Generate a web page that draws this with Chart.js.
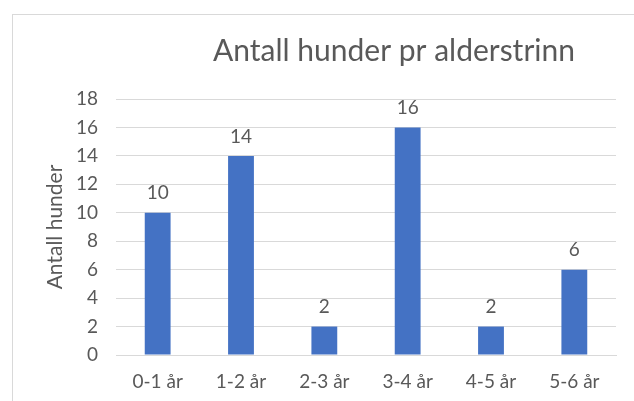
<!DOCTYPE html>
<html>
<head>
<meta charset="utf-8">
<script src="https://cdn.jsdelivr.net/npm/chart.js@4/dist/chart.umd.min.js"></script>
<style>
  body { margin: 0; background: #fff; overflow: hidden; }
  #ramme { position: absolute; left: 12px; top: 14px; width: 640px; height: 400px;
           border-top: 1px solid #d9d9d9; border-left: 1px solid #d9d9d9; }
  #graf { position: absolute; left: 0; top: 0; }
</style>
</head>
<body>
<div id="ramme"></div>
<canvas id="graf" width="634" height="401"></canvas>
<script>
const kategorier = ["0-1 år", "1-2 år", "2-3 år", "3-4 år", "4-5 år", "5-6 år"];
const antallHunder = [10, 14, 2, 16, 2, 6];
const tittel = "Antall hunder pr alderstrinn";
const aksetittel = "Antall hunder";

const skrift = "Lato, 'Open Sans', sans-serif";
const gra = "#595959";

// tall over stolpene + tittel
const etiketter = {
  id: "etiketter",
  afterDatasetsDraw(chart) {
    const ctx = chart.ctx;
    ctx.save();
    ctx.fillStyle = gra;
    ctx.font = "19px " + skrift;
    ctx.textAlign = "center";
    ctx.textBaseline = "bottom";
    chart.getDatasetMeta(0).data.forEach((bar, i) => {
      ctx.fillText(antallHunder[i], bar.x, bar.y - 10);
    });
    ctx.font = "30px " + skrift;
    ctx.textBaseline = "middle";
    const midt = (chart.chartArea.left + chart.chartArea.right) / 2 + 28;
    ctx.fillText(tittel, midt, 51);
    ctx.restore();
  }
};

new Chart(document.getElementById("graf"), {
  type: "bar",
  data: {
    labels: kategorier,
    datasets: [{
      data: antallHunder,
      backgroundColor: "#4472c4",
      barPercentage: 0.62,
      categoryPercentage: 0.5
    }]
  },
  options: {
    responsive: false,
    animation: false,
    layout: { padding: { left: 39, right: 18, top: 99, bottom: 0 } },
    plugins: { legend: { display: false }, tooltip: { enabled: false } },
    scales: {
      y: {
        min: 0, max: 18,
        ticks: { stepSize: 2, color: gra, font: { family: skrift, size: 19 }, padding: 18 },
        grid: { color: "#d9d9d9", drawTicks: false },
        border: { display: false },
        title: { display: true, text: aksetittel, color: gra, font: { family: skrift, size: 21 }, padding: 4 },
        afterFit(s) { s.width = 77; }
      },
      x: {
        ticks: { color: gra, font: { family: skrift, size: 19 }, padding: 15 },
        grid: { display: false, drawTicks: false },
        border: { color: "#d9d9d9" },
        afterFit(s) { s.height = 46; }
      }
    }
  },
  plugins: [etiketter]
});
</script>
</body>
</html>
